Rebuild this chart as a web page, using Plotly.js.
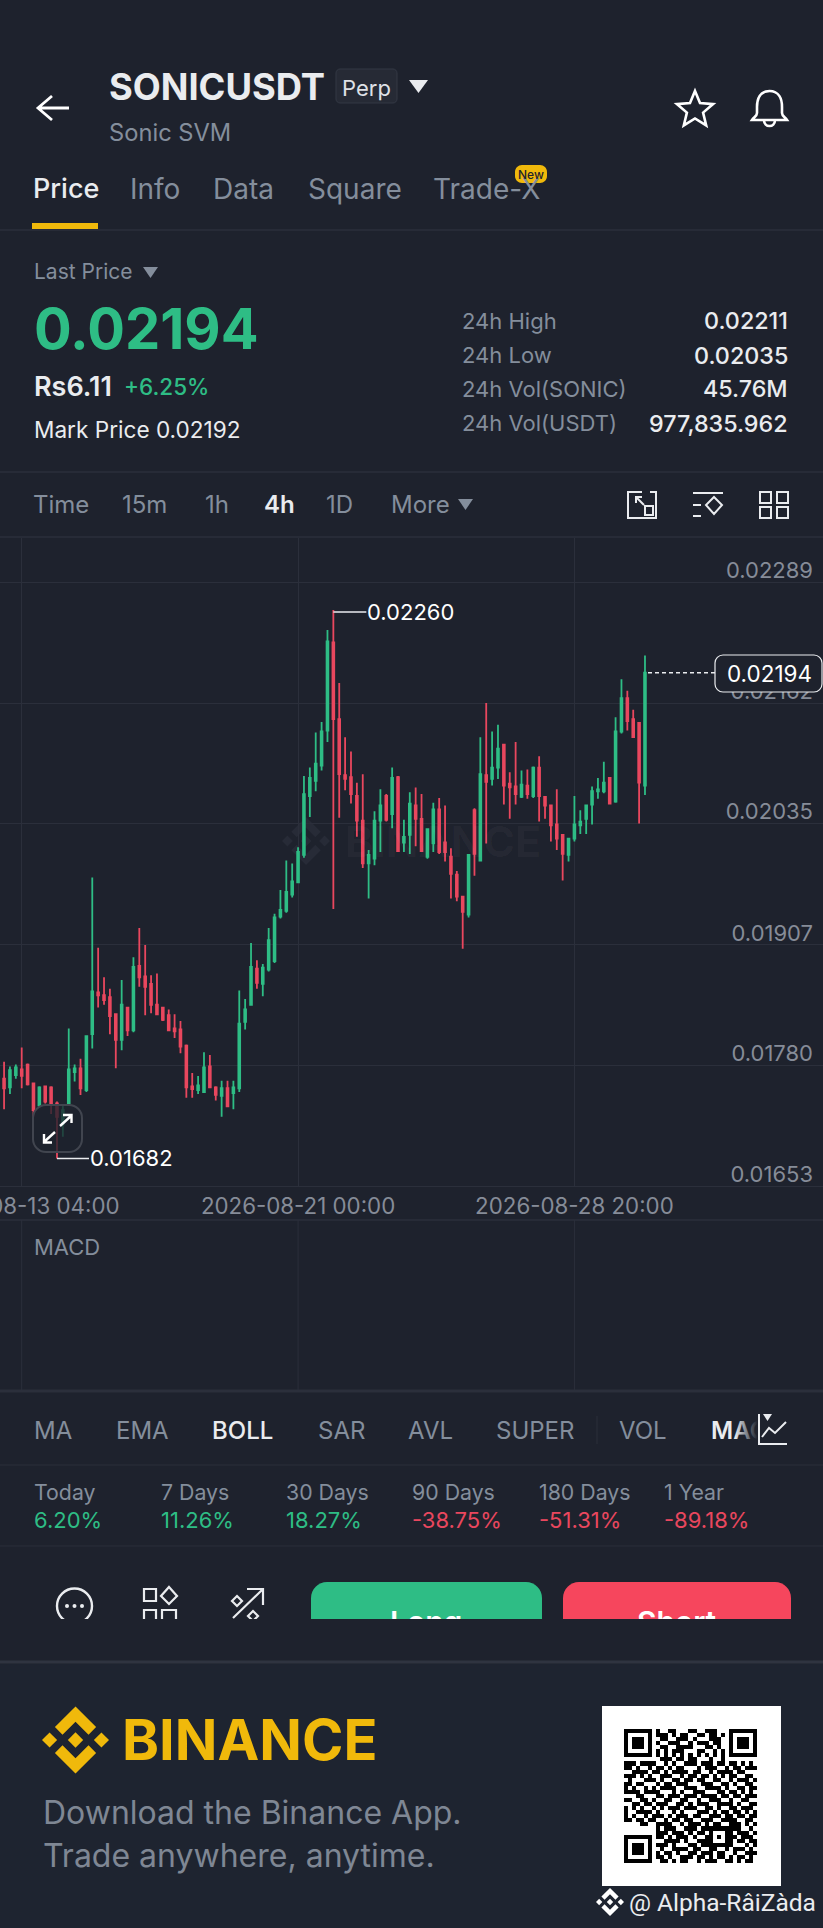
<!DOCTYPE html>
<html><head><meta charset="utf-8">
<script src="https://cdn.plot.ly/plotly-3.0.1.min.js"></script>
<style>
html,body{margin:0;padding:0;background:#1e222d;width:823px;height:1928px;overflow:hidden}
#wrap{position:relative;width:823px;height:1928px}
#chart{position:absolute;left:0;top:0;width:823px;height:1928px}
#cover{position:absolute;left:0;top:1619px;width:823px;height:41px;background:#1e222d}
#fade{position:absolute;left:735px;top:1412px;width:62px;height:34px;background:linear-gradient(90deg,rgba(30,34,45,0),#1e222d 36%)}
#ind{position:absolute;left:755px;top:1410px}
</style></head><body>
<div id="wrap"><div id="chart"></div><div id="cover"></div><div id="fade"></div>
<svg id="ind" width="36" height="38" viewBox="755 1410 36 38"><path d="M759 1414V1444H787M762 1437L769 1428L775 1433L786 1422" fill="none" stroke="#eaecef" stroke-width="2"/><path d="M763 1414H772L767.5 1421Z" fill="#eaecef"/></svg></div>
<script>
// ---------- data: 4h candles, prices in units of 0.00001 USDT, first candle 2026-08-12 16:00
const firstCandle = '2026-08-12T16:00:00Z';
const opens  = [1766,1757,1770,1776,1781,1761,1738,1758,1757,1740,1718,1740,1773,1777,1754,1813,1857,1854,1852,1834,1807,1841,1817,1885,1874,1866,1844,1841,1833,1819,1818,1801,1758,1754,1752,1779,1757,1748,1756,1751,1756,1826,1844,1882,1866,1881,1890,1937,1943,1960,1973,2002,2064,2080,2096,2133,2226,2145,2086,2084,2064,2038,1993,1998,2038,2064,2045,2084,2015,2023,2054,2040,2000,2014,2050,2015,2000,1981,1958,1939,2049,1996,2086,2082,2094,2118,2077,2074,2063,2075,2064,2094,2063,2054,2034,2023,2002,2019,2033,2040,2055,2069,2069,2083,2058,2132,2167,2145,2141,2075];
const highs  = [1784,1779,1781,1799,1782,1762,1758,1759,1758,1742,1738,1819,1781,1787,1812,1978,1904,1873,1861,1835,1870,1842,1894,1925,1907,1875,1877,1842,1839,1834,1827,1802,1772,1769,1794,1791,1758,1764,1764,1764,1859,1850,1909,1891,1887,1925,1940,1965,1996,1993,2010,2085,2094,2131,2142,2239,2260,2183,2126,2111,2078,2087,2007,2048,2071,2066,2094,2085,2039,2068,2073,2066,2030,2057,2062,2054,2009,1985,1959,2003,2051,2126,2162,2132,2139,2119,2089,2121,2091,2092,2095,2106,2064,2055,2071,2024,2020,2064,2049,2055,2074,2083,2100,2084,2147,2187,2175,2155,2142,2212];
const lows   = [1734,1750,1766,1756,1759,1726,1736,1740,1729,1682,1705,1738,1763,1749,1752,1798,1841,1844,1813,1777,1796,1811,1815,1863,1833,1835,1833,1827,1816,1809,1793,1746,1746,1750,1752,1756,1743,1726,1736,1734,1752,1818,1843,1861,1853,1879,1888,1935,1941,1957,1972,1999,2042,2069,2091,2121,1945,2041,2070,2056,2021,1988,1956,1991,2005,2037,2030,2005,2005,2003,2011,2005,1998,2005,2003,1995,1956,1953,1903,1936,1980,1995,2014,2075,2082,2055,2040,2055,2062,2061,2062,2037,2040,2016,2007,1975,1995,2016,2024,2024,2034,2061,2067,2055,2057,2130,2133,2125,2035,2065];
const closes = [1756,1775,1778,1769,1760,1733,1757,1742,1740,1726,1733,1776,1777,1756,1811,1858,1854,1849,1832,1807,1844,1817,1884,1873,1863,1844,1834,1828,1817,1816,1800,1757,1755,1759,1778,1757,1749,1756,1737,1757,1824,1839,1884,1867,1883,1912,1936,1944,1963,1974,2005,2066,2083,2098,2132,2227,2145,2087,2082,2066,2038,1993,2002,2038,2054,2039,2083,2006,2021,2056,2040,2006,2029,2050,2005,2005,1982,1958,1942,2002,2003,2087,2079,2094,2114,2075,2073,2066,2076,2066,2094,2064,2054,2033,2019,2003,2019,2034,2037,2054,2069,2071,2078,2056,2132,2167,2143,2126,2078,2194];
const priceTicks = [0.02289,0.02162,0.02035,0.01907,0.01780,0.01653];
const priceTickLabels = ['0.02289','0.02162','0.02035','0.01907','0.01780','0.01653'];
const timeTicks = ['2026-08-13 04:00','2026-08-21 00:00','2026-08-28 20:00'];
const periodNames = ['Today','7 Days','30 Days','90 Days','180 Days','1 Year'];
const periodValues = ['6.20%','11.26%','18.27%','-38.75%','-51.31%','-89.18%'];
const qrRows = [
'111111101001100011001110001111111','100000101110101100110110101000001','101110100110011101000111001011101',
'101110101001110010111011001011101','101110100110011110001101001011101','100000101010111000110010101000001',
'111111101010101010101010101111111','000000000111011011000100100000000','111011110010100111011101101101010',
'110100101101011000101110010110111','001111011010111101100101111011000','111010100111001011011010101100110',
'010001110100110110110011001011101','110110001011011100011100110100110','101001010111100111001111010011011',
'111101111000101001110001101101010','000110001101110111011110110110111','110011010011001100100111001001100',
'001101101110011010111001111010011','101010010101110111001101001101110','100111101000101000111010110110101',
'101001011101011101100111011011011','110110110010110110011100111100110','000011001111001011101011001110101',
'000000001011100111011111111110010','000000001110111010110100011011101','111111101101011101001101011101110',
'100000100011110100111100011011011','101110101110100011011111111000101','101110100100111101100110010111010',
'101110101011010011011101100100111','100000101101001110110101101011010','111111100110101100101110011010110'];

// ---------- page helpers
const W=823,H=1928, BG='#1e222d', GREEN='#2ebd85', RED='#e9475e', YEL='#f0b90b', GRID='#2b2f3b', TXT='#eaecef', MUTE='#848e9c', AXT='#868c98';
const fx=x=>x/W, fy=y=>1-y/H;
function pth(d){let i=0;return d.replace(/-?\d+(\.\d+)?/g,m=>{const v=+m;return (i++%2===0?fx(v):fy(v)).toFixed(6)})}
const shapes=[], notes=[];
function P(d,o={}){shapes.push({type:'path',path:pth(d),xref:'paper',yref:'paper',layer:o.layer||'above',
  line:{color:o.color||'rgba(0,0,0,0)',width:o.w===undefined?2.4:o.w,dash:o.dash||'solid'},fillcolor:o.fill||'rgba(0,0,0,0)'})}
function R(x0,y0,x1,y1,fill,layer){shapes.push({type:'rect',xref:'paper',yref:'paper',x0:fx(x0),x1:fx(x1),y0:fy(y0),y1:fy(y1),fillcolor:fill,line:{width:0},layer:layer||'above'})}
function Ring(cx,cy,r,color,w){shapes.push({type:'circle',xref:'paper',yref:'paper',x0:fx(cx-r),x1:fx(cx+r),y0:fy(cy+r),y1:fy(cy-r),line:{color,width:w},layer:'above'})}
function RR(x0,y0,x1,y1,r,o){const k=r*0.45;P(`M ${x0+r} ${y0} L ${x1-r} ${y0} C ${x1-k} ${y0} ${x1} ${y0+k} ${x1} ${y0+r} L ${x1} ${y1-r} C ${x1} ${y1-k} ${x1-k} ${y1} ${x1-r} ${y1} L ${x0+r} ${y1} C ${x0+k} ${y1} ${x0} ${y1-k} ${x0} ${y1-r} L ${x0} ${y0+r} C ${x0} ${y0+k} ${x0+k} ${y0} ${x0+r} ${y0} Z`,o)}
function T(text,x,y,size,color,o={}){notes.push({text,xref:'paper',yref:'paper',x:fx(x),y:fy(y),xanchor:o.a||'left',yanchor:'middle',showarrow:false,borderpad:0,borderwidth:0,
  font:{family:o.f||'Inter, "Noto Sans", sans-serif',size,color,weight:o.wt||400}})}
function HL(y,c,w){P(`M 0 ${y} L ${W} ${y}`,{color:c||GRID,w:w||1,layer:'below'})}
function Tri(x0,x1,y0,y1,c){P(`M ${x0} ${y0} L ${x1} ${y0} L ${(x0+x1)/2} ${y1} Z`,{fill:c})}
function Logo(cx,cy,size,color,layer){const s=size/126.61,ox=cx-size/2,oy=cy-size/2;
  const polys=[[[38.73,53.2],[63.32,28.62],[87.92,53.22],[102.22,38.91],[63.32,0],[24.43,38.9]],
    [[0,63.31],[14.3,49],[28.61,63.31],[14.3,77.61]],
    [[38.73,73.41],[63.32,98],[87.92,73.4],[102.23,87.69],[63.33,126.6],[24.42,87.72]],
    [[98,63.31],[112.3,49],[126.61,63.31],[112.31,77.61]],
    [[77.83,63.3],[63.32,48.78],[48.81,63.28],[63.32,77.78]]];
  polys.forEach(p=>P('M '+p.map(q=>(ox+q[0]*s).toFixed(2)+' '+(oy+q[1]*s).toFixed(2)).join(' L ')+' Z',{fill:color,layer:layer||'above'}))}

// ---------- header
P('M 38 108 L 69 108 M 52 96 L 38 108 L 52 120',{color:'#fff',w:2.8});
T('SONICUSDT',109,87,36.3,TXT,{wt:700});
RR(336,69,397,103,4,{color:'#343945',w:1,fill:'#262a35'});
T('Perp',342,88,22,'#dfe1e6',{wt:400});
Tri(409,428,80,93,'#eaecef');
T('Sonic SVM',109,133,23.7,MUTE);
const star=[];for(let i=0;i<10;i++){const r=i%2?8.5:19,a=-Math.PI/2+i*Math.PI/5;star.push((695+r*Math.cos(a)).toFixed(1)+' '+(110+r*Math.sin(a)).toFixed(1))}
P('M '+star.join(' L ')+' Z',{color:'#fff',w:2.6});
P('M 769.5 91 C 760 91 757 99 757 107 L 757 113 C 757 116 754 117 752 120 L 787 120 C 785 117 782 116 782 113 L 782 107 C 782 99 779 91 769.5 91 Z M 764 120 C 764 128 775 128 775 120',{color:'#fff',w:2.6});
[['Price',33,TXT,500,27],['Info',130,MUTE,400,28],['Data',213,MUTE,400,28],['Square',308,MUTE,400,28],['Trade-X',433,MUTE,400,28]].forEach(t=>T(t[0],t[1],189,t[4],t[2],{wt:t[3]}));
RR(515,165,547,183,7,{fill:YEL,w:0});
T('New',531,174,12,'#1e222d',{a:'center',wt:500});
R(32,223,98,229,YEL);
HL(230,GRID,1.5);
T('Last Price',34,272,21,MUTE);
Tri(143,158,267,278,MUTE);
T('0.02194',34,329,56,GREEN,{wt:700});
T('Rs6.11',34,387,27,TXT,{wt:600});
T('+6.25%',124,387,22.5,GREEN,{wt:500});
T('Mark Price 0.02192',34,430,22.6,TXT);
[['24h High','0.02211',321],['24h Low','0.02035',355],['24h Vol(SONIC)','45.76M',389],['24h Vol(USDT)','977,835.962',423]].forEach(r=>{
  T(r[0],462,r[2],22,MUTE);T(r[1],788,r[2],23.3,TXT,{a:'right',wt:500})});
HL(472,GRID,1.5);
[['Time',33,MUTE,400],['15m',122,MUTE,400],['1h',205,MUTE,400],['4h',264,TXT,600],['1D',326,MUTE,400],['More',391,MUTE,400]].forEach(t=>T(t[0],t[1],505,24,t[2],{wt:t[3]}));
Tri(458,473,499,510,MUTE);
// toolbar icons
P('M 642 492 L 628 492 L 628 518 L 656 518 L 656 492 L 650 492 M 636 497 L 644 505 M 636 503 L 636 497 L 642 497',{color:'#eaecef',w:2});
P('M 645 506 L 653 506 L 653 515 L 645 515 Z',{color:'#eaecef',w:2});
P('M 693 493 L 723 493 M 693 505 L 701 505 M 693 516 L 701 516 M 714 497 L 722 505 L 714 514 L 706 505 Z',{color:'#eaecef',w:2});
[[760,492],[777,492],[760,507],[777,507]].forEach(q=>P(`M ${q[0]} ${q[1]} L ${q[0]+11} ${q[1]} L ${q[0]+11} ${q[1]+11} L ${q[0]} ${q[1]+11} Z`,{color:'#eaecef',w:2}));
HL(537,GRID,1.5);

// ---------- candle chart decoration
Logo(306,841,48,'#272b37','below');
T('BINANCE',345,841,43,'rgba(255,255,255,0.035)',{wt:700});
const xAt=k=>new Date(Date.parse(firstCandle)+k*4*3600*1000).toISOString().slice(0,16).replace('T',' ');
const times=opens.map((_,k)=>xAt(k));
const toP=a=>a.map(v=>v/100000);
const last=closes[closes.length-1]/100000, maxI=highs.indexOf(Math.max(...highs)), minI=lows.indexOf(Math.min(...lows));
const markFont={family:'Inter, sans-serif',size:22,color:'#fff'};
notes.push({x:times[maxI],y:highs[maxI]/100000,xref:'x',yref:'y',text:(highs[maxI]/100000).toFixed(5),showarrow:true,arrowhead:0,arrowwidth:1.3,arrowcolor:'#eaecef',ax:33,ay:0,xanchor:'left',yanchor:'middle',standoff:0,borderpad:0,yshift:-2,font:markFont});
notes.push({x:times[minI],y:lows[minI]/100000,xref:'x',yref:'y',text:(lows[minI]/100000).toFixed(5),showarrow:true,arrowhead:0,arrowwidth:1.3,arrowcolor:'#eaecef',ax:32,ay:0,xanchor:'left',yanchor:'middle',standoff:0,borderpad:0,font:markFont});
shapes.push({type:'line',xref:'paper',yref:'y',x0:fx(648),x1:fx(715),y0:last,y1:last,line:{color:'#eaecef',width:1.5,dash:'4px,3px'},layer:'above'});
RR(715,655,822,692,8,{color:'#eaecef',w:1.2,fill:BG});
T(last.toFixed(5),812,673.5,22.5,'#fff',{a:'right'});
// expand button
RR(33,1105,82,1152,13,{color:'#41454f',w:2,fill:'rgba(30,34,45,0.78)'});
P('M 60 1126 L 71 1116 M 63 1115 L 71.5 1115 L 71.5 1123',{color:'#fff',w:2.4});
P('M 55 1132 L 44 1142 M 44 1134 L 44 1142.5 L 52 1142.5',{color:'#fff',w:2.4});

// ---------- MACD pane
HL(1220,GRID,1.5);
timeTicks.forEach(t=>shapes.push({type:'line',xref:'x',yref:'paper',x0:t,x1:t,y0:fy(1390),y1:fy(1220),line:{color:GRID,width:1},layer:'below'}));
T('MACD',34,1247,22,MUTE);
HL(1391,GRID,3);

// ---------- indicators
[['MA',34,MUTE,400],['EMA',116,MUTE,400],['BOLL',212,TXT,500],['SAR',318,MUTE,400],['AVL',408,MUTE,400],['SUPER',496,MUTE,400],['VOL',619,MUTE,400],['MACD',711,TXT,600]].forEach(t=>T(t[0],t[1],1430,24,t[2],{wt:t[3]}));
P('M 597 1416 L 597 1444',{color:GRID,w:1});
HL(1465,GRID,1);
const periodX=[34,161,286,412,539,664];
periodNames.forEach((n,i)=>{T(n,periodX[i],1491.5,21.3,MUTE);
  T(periodValues[i],periodX[i],1520,22,periodValues[i][0]==='-'?RED:GREEN)});
HL(1546,GRID,1);

// ---------- action row (clipped by the cover below y=1619)
Ring(74.5,1606,17.5,'#eaecef',2.4);
[67,74.5,82].forEach(x=>shapes.push({type:'circle',xref:'paper',yref:'paper',x0:fx(x-2),x1:fx(x+2),y0:fy(1608),y1:fy(1604),fillcolor:'#eaecef',line:{width:0},layer:'above'}));
P('M 144 1589 L 156 1589 L 156 1601 L 144 1601 Z M 169 1587 L 177 1596 L 169 1604 L 161 1596 Z M 144 1610 L 156 1610 L 156 1622 L 144 1622 Z M 162 1610 L 176 1610 L 176 1622 L 162 1622 Z',{color:'#eaecef',w:2.2});
P('M 233 1618 L 262 1590 M 247 1589 L 263 1589 L 263 1605 M 237 1596 L 242 1601 L 237 1606 L 232 1601 Z M 253 1611 L 258 1616 L 253 1621 L 248 1616 Z',{color:'#eaecef',w:2.2});
RR(311,1582,542,1650,16,{fill:GREEN,w:0});
RR(563,1582,791,1650,16,{fill:'#f6465d',w:0});
T('Long',426.5,1622,30,'#fff',{a:'center',wt:600});
T('Short',677,1622,30,'#fff',{a:'center',wt:600});

// ---------- footer
R(0,1664,W,H,'#1e2430','below');
HL(1662,'#2f3440',3);
Logo(75.5,1740,67,YEL);
T('BINANCE',122,1740,56,YEL,{wt:700});
T('Download the Binance App.',42.5,1812,32,'#7f8794');
T('Trade anywhere, anytime.',42.5,1855,32,'#7f8794');
R(602,1706,781,1886,'#ffffff','below');
Logo(610,1902,28,'#fff');
T('@ Alpha-RâiZàda',629,1902,24.5,'#eaecef',{f:'Roboto, sans-serif'});

// ---------- figure
const qr=qrRows.map(r=>r.split('').map(Number));
const data=[
 {type:'candlestick',x:times,open:toP(opens),high:toP(highs),low:toP(lows),close:toP(closes),xaxis:'x',yaxis:'y',whiskerwidth:0,
  increasing:{line:{color:GREEN,width:1.8},fillcolor:GREEN},decreasing:{line:{color:RED,width:1.8},fillcolor:RED},hoverinfo:'skip',showlegend:false},
 {type:'heatmap',z:qr,xaxis:'x2',yaxis:'y2',showscale:false,colorscale:[[0,'#ffffff'],[1,'#000000']],zmin:0,zmax:1,hoverinfo:'skip'}
];
const layout={width:W,height:H,margin:{l:0,r:0,t:0,b:0,pad:0},paper_bgcolor:BG,plot_bgcolor:'rgba(0,0,0,0)',showlegend:false,boxgap:0.57,
 xaxis:{domain:[0,1],anchor:'y',type:'date',range:['2026-08-12 13:14','2026-09-04 21:06'],rangeslider:{visible:false},tickmode:'array',tickvals:timeTicks,tickformat:'%Y-%m-%d %H:%M',
   showgrid:true,gridcolor:GRID,gridwidth:1,zeroline:false,showline:true,linecolor:GRID,linewidth:1,ticks:'',tickfont:{family:'Inter, sans-serif',size:22.3,color:AXT},fixedrange:true,ticklabelstandoff:0,ticklabeloverflow:'allow'},
 yaxis:{domain:[fy(1186),fy(538)],anchor:'x',side:'right',range:[0.01653,0.023359],tickmode:'array',tickvals:priceTicks,ticktext:priceTickLabels,ticklabelposition:'inside',ticklabelstandoff:7,ticklabelshift:-12,ticklabeloverflow:'allow',
   showgrid:true,gridcolor:GRID,gridwidth:1,zeroline:false,ticks:'',tickfont:{family:'Inter, sans-serif',size:22,color:AXT},fixedrange:true},
 xaxis2:{domain:[fx(624),fx(757)],anchor:'y2',visible:false,fixedrange:true},
 yaxis2:{domain:[fy(1863),fy(1729)],anchor:'x2',visible:false,autorange:'reversed',fixedrange:true},
 shapes,annotations:notes};
Plotly.newPlot('chart',data,layout,{displayModeBar:false,staticPlot:true});
</script></body></html>
